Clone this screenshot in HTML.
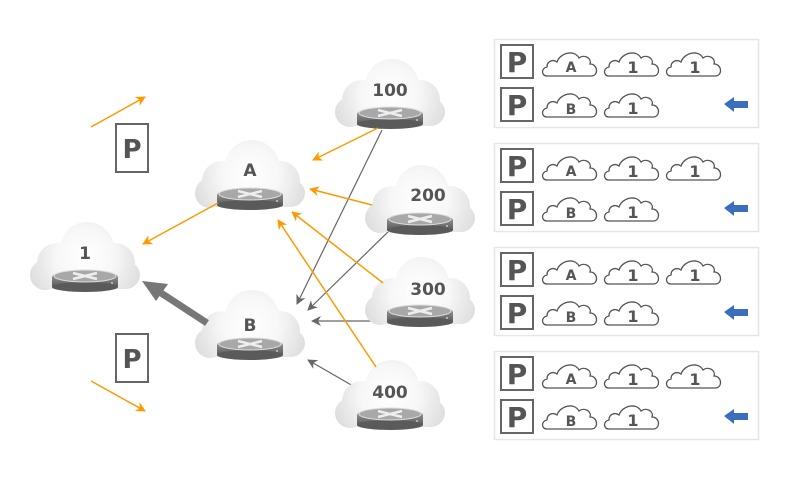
<!DOCTYPE html>
<html><head><meta charset="utf-8"><style>body{margin:0;background:#fff}svg{display:block}text{font-family:"DejaVu Sans","Liberation Sans",sans-serif;font-weight:bold;fill:#555}</style></head><body>
<svg width="800" height="500" viewBox="0 0 800 500" xmlns="http://www.w3.org/2000/svg">
<defs>
<radialGradient id="cg" gradientUnits="userSpaceOnUse" cx="0" cy="2" r="58"><stop offset="0" stop-color="#ffffff"/><stop offset="0.5" stop-color="#f7f7f7"/><stop offset="1" stop-color="#dedede"/></radialGradient>
<linearGradient id="rg" x1="0" y1="0" x2="0" y2="1"><stop offset="0" stop-color="#8a8a8a"/><stop offset="1" stop-color="#5a5a5a"/></linearGradient>
<g id="cloud">
<g fill="url(#cg)">
<circle cx="-28" cy="8" r="20"/><circle cx="2" cy="-6" r="27"/><circle cx="30" cy="8" r="20"/>
<circle cx="-40" cy="20" r="15"/><circle cx="42" cy="20" r="13"/>
<rect x="-52" y="8" width="106" height="26" rx="13"/>
</g>
<ellipse cx="0" cy="22" rx="33" ry="7" fill="#999"/>
<rect x="-33" y="22" width="66" height="10" fill="url(#rg)"/>
<ellipse cx="0" cy="32" rx="33" ry="5" fill="#5a5a5a"/>
<ellipse cx="0" cy="21" rx="31" ry="6" fill="#a8a8a8" stroke="#ddd" stroke-width="1"/>
<path d="M-12,18 L12,24 M12,18 L-12,24" stroke="#eee" stroke-width="2.5"/>
<circle cx="27" cy="28" r="1" fill="#cc9"/>
</g>
<path id="sc" d="M6,29 C0,29 0,21 6,20 C6,14 12,12 16,15 C19,6 33,2 38,11 C43,7 51,11 49,17 C57,17 58,29 50,29 Z" fill="#fff" stroke="#555" stroke-width="1.3"/>
<marker id="ao" markerWidth="10" markerHeight="10" refX="9" refY="5" orient="auto" markerUnits="userSpaceOnUse"><path d="M0,0 L10,5 L0,10 L3,5 Z" fill="#f90"/></marker>
<marker id="ag" markerWidth="10" markerHeight="10" refX="9" refY="5" orient="auto" markerUnits="userSpaceOnUse"><path d="M0,0 L10,5 L0,10 L3,5 Z" fill="#666"/></marker>
</defs>

<g stroke="#f90" stroke-width="1.5" fill="none" marker-end="url(#ao)">
<line x1="91" y1="127" x2="145" y2="97"/>
<line x1="91" y1="381" x2="145" y2="411"/>
</g>
<g stroke="#666" stroke-width="1.2" fill="none" marker-end="url(#ag)">
<line x1="382" y1="130" x2="297" y2="304"/>
<line x1="392" y1="228" x2="308" y2="310"/>
<line x1="420" y1="321" x2="312" y2="321"/>
<line x1="360" y1="390" x2="308" y2="360"/>
</g>

<use href="#cloud" transform="translate(85,255)"/>
<use href="#cloud" transform="translate(250,173)"/>
<use href="#cloud" transform="translate(250,323)"/>
<use href="#cloud" transform="translate(390,92)"/>
<use href="#cloud" transform="translate(420,198)"/>
<use href="#cloud" transform="translate(420,290)"/>
<use href="#cloud" transform="translate(390,393)"/>

<g stroke="#f90" stroke-width="1.5" fill="none" marker-end="url(#ao)">
<line x1="378" y1="128" x2="313" y2="160"/>
<line x1="372" y1="205" x2="310" y2="189"/>
<line x1="383" y1="283" x2="292" y2="212"/>
<line x1="376" y1="367" x2="278" y2="220"/>
<line x1="218" y1="203" x2="143" y2="244"/>
</g>
<line x1="207" y1="323" x2="158" y2="291" stroke="#777" stroke-width="7"/>
<path d="M142,281 L168,284 L156,301 Z" fill="#777"/>

<g font-size="17" text-anchor="middle">
<text x="85" y="259">1</text>
<text x="250" y="176">A</text>
<text x="250" y="331">B</text>
<text x="390" y="96">100</text>
<text x="428" y="201">200</text>
<text x="428" y="295">300</text>
<text x="390" y="398">400</text>
</g>

<g fill="#fff" stroke="#666" stroke-width="2">
<rect x="116" y="124" width="32" height="48"/>
<rect x="116" y="334" width="32" height="48"/>
</g>
<g font-size="26" text-anchor="middle"><text x="132" y="158">P</text><text x="132" y="368">P</text></g>

<g id="panel">
<rect x="494.5" y="39.5" width="264" height="88" fill="#fff" stroke="#e6e6e6" stroke-width="1.5"/>
<rect x="501" y="45" width="32" height="33" fill="none" stroke="#666" stroke-width="2"/>
<rect x="501" y="88" width="32" height="33" fill="none" stroke="#666" stroke-width="2"/>
<text x="517" y="72" font-size="28" text-anchor="middle">P</text>
<text x="517" y="115" font-size="28" text-anchor="middle">P</text>
<use href="#sc" transform="translate(541,47)"/>
<use href="#sc" transform="translate(603,47)"/>
<use href="#sc" transform="translate(665,47)"/>
<use href="#sc" transform="translate(541,88)"/>
<use href="#sc" transform="translate(603,88)"/>
<g font-size="14" text-anchor="middle"><text x="571" y="72">A</text><text x="571" y="114">B</text></g>
<g font-size="16" text-anchor="middle"><text x="633" y="73">1</text><text x="695" y="73">1</text><text x="633" y="114">1</text></g>
<path d="M724,104 L734,97 L734,101 L748,101 L748,108 L734,108 L734,112 Z" fill="#3a6fc0"/>
</g>
<use href="#panel" transform="translate(0,104)"/>
<use href="#panel" transform="translate(0,208)"/>
<use href="#panel" transform="translate(0,312)"/>
</svg>
</body></html>
